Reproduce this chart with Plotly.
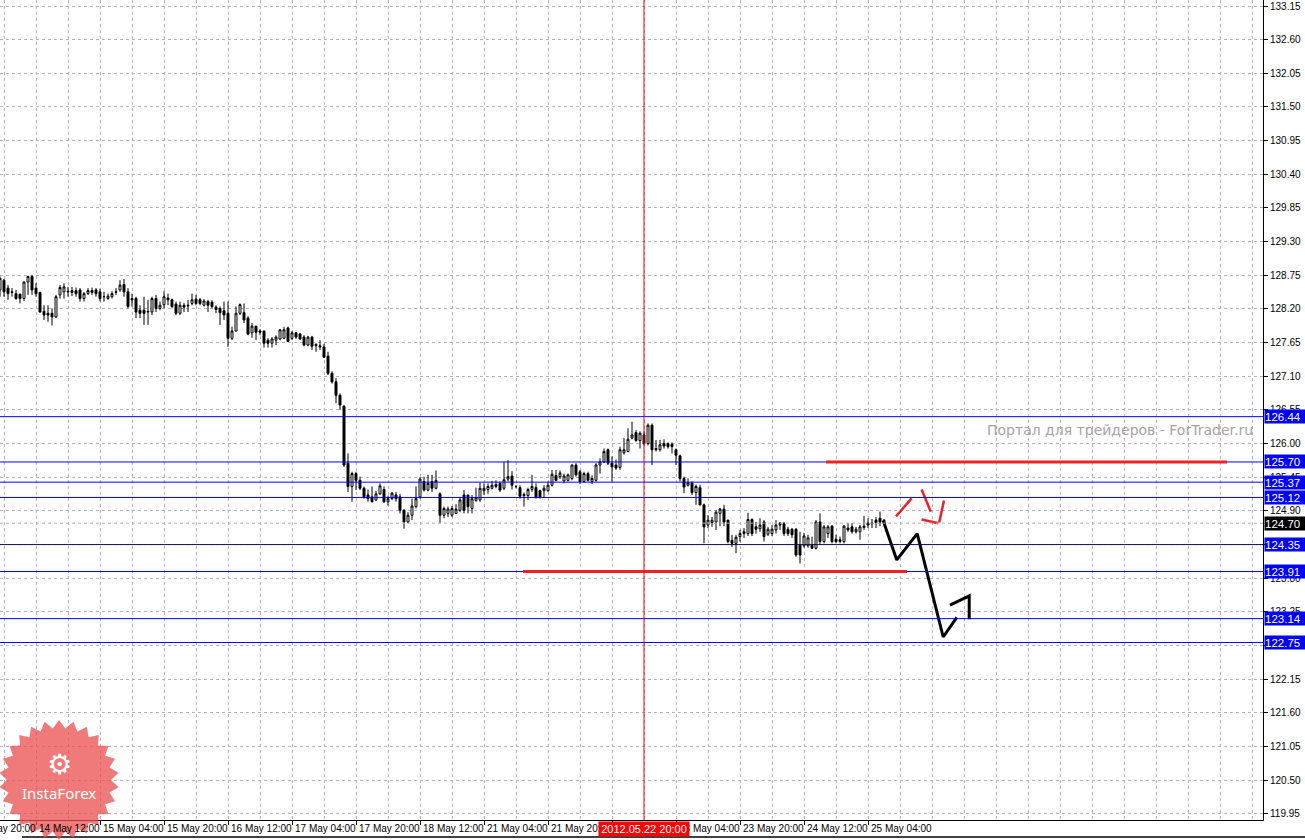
import math
import plotly.graph_objects as go

# ---------------- data (H1 bars, index 0 = 14 May 12:00) ----------------
bar_index = list(range(-9, 213))

opens = [
    128.51, 128.67, 128.54, 128.48, 128.45, 128.44, 128.37, 128.64, 128.73, 128.54,
    128.47, 128.16, 128.13, 128.13, 128.07, 128.43, 128.48, 128.49, 128.50, 128.50,
    128.51, 128.37, 128.45, 128.50, 128.51, 128.48, 128.40, 128.37, 128.40, 128.47,
    128.51, 128.60, 128.48, 128.37, 128.37, 128.18, 128.18, 128.15, 128.15, 128.37,
    128.21, 128.27, 128.38, 128.35, 128.28, 128.13, 128.26, 128.25, 128.29, 128.36,
    128.35, 128.26, 128.32, 128.31, 128.23, 128.21, 128.17, 128.13, 127.72, 127.84,
    128.13, 128.14, 128.05, 127.81, 127.92, 127.84, 127.84, 127.69, 127.64, 127.69,
    127.71, 127.72, 127.89, 127.72, 127.81, 127.79, 127.74, 127.61, 127.74, 127.62,
    127.60, 127.58, 127.43, 127.15, 127.01, 126.79, 126.61, 125.68, 125.30, 125.51,
    125.40, 125.27, 125.16, 125.13, 125.08, 125.18, 125.25, 125.05, 125.10, 125.16,
    125.13, 124.91, 124.72, 124.83, 124.97, 125.13, 125.38, 125.24, 125.38, 125.27,
    125.18, 124.83, 124.86, 124.83, 124.86, 124.91, 125.16, 125.16, 124.94, 125.07,
    125.08, 125.23, 125.25, 125.27, 125.33, 125.35, 125.27, 125.42, 125.47, 125.30,
    125.28, 125.17, 125.15, 125.25, 125.28, 125.23, 125.23, 125.23, 125.32, 125.48,
    125.46, 125.39, 125.40, 125.43, 125.65, 125.54, 125.38, 125.51, 125.38, 125.40,
    125.65, 125.70, 125.90, 125.68, 125.65, 125.61, 125.85, 125.87, 126.09, 126.18,
    126.05, 126.14, 126.00, 126.30, 125.90, 125.90, 126.00, 126.00, 125.99, 125.90,
    125.80, 125.43, 125.32, 125.36, 125.20, 125.28, 125.00, 124.67, 124.71, 124.72,
    124.86, 124.93, 124.75, 124.42, 124.37, 124.48, 124.56, 124.53, 124.76, 124.64,
    124.61, 124.72, 124.52, 124.53, 124.59, 124.67, 124.69, 124.60, 124.60, 124.60,
    124.34, 124.33, 124.33, 124.34, 124.29, 124.72, 124.40, 124.53, 124.65, 124.44,
    124.40, 124.40, 124.62, 124.64, 124.56, 124.56, 124.63, 124.67, 124.69, 124.75,
    124.78, 124.75,
]
highs = [
    128.73, 128.69, 128.59, 128.54, 128.51, 128.45, 128.65, 128.74, 128.75, 128.62,
    128.48, 128.26, 128.26, 128.21, 128.43, 128.59, 128.62, 128.56, 128.56, 128.55,
    128.54, 128.48, 128.54, 128.55, 128.54, 128.53, 128.48, 128.45, 128.49, 128.54,
    128.67, 128.69, 128.54, 128.45, 128.40, 128.26, 128.40, 128.35, 128.40, 128.43,
    128.32, 128.49, 128.45, 128.37, 128.32, 128.32, 128.30, 128.35, 128.45, 128.43,
    128.38, 128.36, 128.35, 128.34, 128.26, 128.24, 128.32, 128.32, 127.91, 128.24,
    128.29, 128.29, 128.08, 127.97, 127.92, 127.87, 127.84, 127.72, 127.74, 127.77,
    127.87, 127.91, 127.91, 127.84, 127.82, 127.81, 127.77, 127.76, 127.76, 127.64,
    127.69, 127.63, 127.50, 127.18, 127.07, 126.82, 126.63, 125.84, 125.54, 125.54,
    125.46, 125.30, 125.25, 125.30, 125.23, 125.35, 125.30, 125.15, 125.21, 125.21,
    125.18, 124.93, 124.88, 125.10, 125.30, 125.45, 125.46, 125.49, 125.49, 125.56,
    125.20, 124.97, 124.97, 124.98, 125.01, 125.13, 125.24, 125.16, 125.16, 125.28,
    125.36, 125.35, 125.35, 125.39, 125.40, 125.38, 125.70, 125.73, 125.55, 125.32,
    125.32, 125.20, 125.28, 125.49, 125.35, 125.25, 125.32, 125.38, 125.57, 125.57,
    125.56, 125.51, 125.51, 125.66, 125.68, 125.57, 125.54, 125.54, 125.48, 125.68,
    125.76, 125.92, 125.92, 125.79, 125.74, 125.95, 126.09, 126.25, 126.36, 126.22,
    126.20, 126.20, 126.33, 126.33, 126.06, 126.06, 126.07, 126.02, 126.02, 125.92,
    125.82, 125.46, 125.43, 125.38, 125.33, 125.33, 125.02, 124.83, 124.80, 124.91,
    124.95, 125.00, 124.75, 124.51, 124.51, 124.59, 124.62, 124.87, 124.78, 124.72,
    124.78, 124.75, 124.64, 124.67, 124.75, 124.72, 124.72, 124.64, 124.62, 124.62,
    124.56, 124.54, 124.51, 124.48, 124.75, 124.86, 124.67, 124.67, 124.67, 124.51,
    124.48, 124.67, 124.70, 124.70, 124.64, 124.67, 124.82, 124.78, 124.77, 124.80,
    124.89, 124.77,
]
lows = [
    128.40, 128.40, 128.35, 128.40, 128.35, 128.29, 128.33, 128.43, 128.43, 128.40,
    128.14, 128.02, 127.99, 127.93, 128.05, 128.37, 128.37, 128.40, 128.41, 128.40,
    128.32, 128.32, 128.43, 128.43, 128.40, 128.32, 128.32, 128.35, 128.37, 128.43,
    128.48, 128.40, 128.21, 128.24, 128.05, 128.05, 127.94, 127.94, 128.10, 128.15,
    128.18, 128.21, 128.26, 128.21, 128.10, 128.10, 128.15, 128.15, 128.26, 128.26,
    128.26, 128.24, 128.15, 128.21, 128.13, 127.94, 128.02, 127.58, 127.69, 127.83,
    128.10, 127.97, 127.77, 127.73, 127.69, 127.77, 127.57, 127.57, 127.57, 127.61,
    127.69, 127.71, 127.66, 127.69, 127.71, 127.69, 127.59, 127.59, 127.53, 127.50,
    127.53, 127.40, 127.12, 126.98, 126.66, 126.55, 125.62, 125.21, 125.05, 125.24,
    125.24, 125.10, 125.05, 125.04, 125.06, 125.16, 125.03, 124.99, 125.08, 125.05,
    124.86, 124.61, 124.70, 124.75, 124.94, 125.10, 125.22, 125.22, 125.21, 125.25,
    124.70, 124.78, 124.80, 124.80, 124.85, 124.88, 124.86, 124.86, 124.86, 125.05,
    125.05, 125.16, 125.18, 125.25, 125.27, 125.21, 125.24, 125.38, 125.25, 125.27,
    125.10, 124.97, 125.08, 125.21, 125.10, 125.10, 125.12, 125.21, 125.30, 125.38,
    125.42, 125.35, 125.38, 125.40, 125.46, 125.34, 125.36, 125.38, 125.34, 125.38,
    125.51, 125.68, 125.65, 125.38, 125.57, 125.57, 125.82, 125.86, 126.07, 126.03,
    125.92, 125.97, 125.97, 125.65, 125.87, 125.87, 125.92, 125.92, 125.84, 125.65,
    125.38, 125.19, 125.30, 125.16, 125.00, 124.99, 124.37, 124.62, 124.64, 124.59,
    124.65, 124.65, 124.37, 124.31, 124.21, 124.40, 124.46, 124.49, 124.49, 124.53,
    124.56, 124.40, 124.49, 124.49, 124.53, 124.59, 124.49, 124.49, 124.46, 124.15,
    124.04, 124.30, 124.30, 124.28, 124.27, 124.35, 124.37, 124.46, 124.37, 124.37,
    124.37, 124.37, 124.56, 124.53, 124.53, 124.43, 124.59, 124.62, 124.62, 124.62,
    124.65, 124.67,
]
closes = [
    128.70, 128.48, 128.45, 128.47, 128.37, 128.37, 128.64, 128.73, 128.51, 128.45,
    128.15, 128.10, 128.10, 128.07, 128.40, 128.55, 128.56, 128.48, 128.47, 128.45,
    128.37, 128.45, 128.50, 128.47, 128.45, 128.37, 128.40, 128.41, 128.45, 128.48,
    128.59, 128.48, 128.24, 128.35, 128.15, 128.13, 128.13, 128.16, 128.37, 128.21,
    128.26, 128.40, 128.35, 128.24, 128.13, 128.26, 128.23, 128.26, 128.35, 128.29,
    128.29, 128.33, 128.26, 128.24, 128.19, 128.14, 128.10, 127.72, 127.84, 128.13,
    128.27, 128.02, 127.79, 127.92, 127.82, 127.82, 127.64, 127.64, 127.71, 127.74,
    127.86, 127.86, 127.67, 127.81, 127.74, 127.71, 127.61, 127.74, 127.59, 127.60,
    127.58, 127.41, 127.15, 127.01, 126.79, 126.63, 125.65, 125.30, 125.51, 125.40,
    125.27, 125.13, 125.10, 125.05, 125.18, 125.31, 125.05, 125.10, 125.19, 125.10,
    124.91, 124.72, 124.83, 124.98, 125.10, 125.42, 125.24, 125.35, 125.27, 125.40,
    124.83, 124.94, 124.93, 124.94, 124.93, 125.08, 124.91, 124.97, 125.10, 125.12,
    125.27, 125.27, 125.30, 125.32, 125.30, 125.24, 125.41, 125.46, 125.32, 125.30,
    125.14, 125.15, 125.25, 125.30, 125.12, 125.12, 125.27, 125.32, 125.50, 125.40,
    125.52, 125.47, 125.49, 125.65, 125.49, 125.38, 125.51, 125.40, 125.43, 125.65,
    125.70, 125.87, 125.68, 125.62, 125.60, 125.90, 125.90, 126.07, 126.14, 126.05,
    126.17, 126.00, 126.30, 125.90, 125.92, 125.98, 125.96, 125.95, 125.95, 125.81,
    125.43, 125.29, 125.36, 125.20, 125.30, 125.00, 124.64, 124.75, 124.75, 124.88,
    124.93, 124.72, 124.40, 124.37, 124.47, 124.53, 124.53, 124.76, 124.53, 124.60,
    124.67, 124.48, 124.60, 124.60, 124.67, 124.70, 124.53, 124.53, 124.51, 124.18,
    124.18, 124.49, 124.46, 124.29, 124.72, 124.40, 124.64, 124.64, 124.40, 124.40,
    124.43, 124.65, 124.59, 124.56, 124.60, 124.64, 124.65, 124.70, 124.70, 124.71,
    124.72, 124.70,
]

# price axis labels
y_ticks = [119.95, 120.50, 121.05, 121.60, 122.15, 122.70, 123.25, 123.80, 124.35,
           124.90, 125.45, 126.00, 126.55, 127.10, 127.65, 128.20, 128.75, 129.30,
           129.85, 130.40, 130.95, 131.50, 132.05, 132.60, 133.15]

# time axis labels (bar index where each label sits)
x_label_bars = [-16, 0, 16, 32, 48, 64, 80, 96, 112, 128, 144, 160, 176, 192, 208]
x_labels = ["13 May 20:00", "14 May 12:00", "15 May 04:00", "15 May 20:00",
            "16 May 12:00", "17 May 04:00", "17 May 20:00", "18 May 12:00",
            "21 May 04:00", "21 May 20:00", "22 May 12:00", "23 May 04:00",
            "23 May 20:00", "24 May 12:00", "25 May 04:00"]

# horizontal levels
level_prices = [126.44, 125.70, 125.37, 125.12, 124.35, 123.91, 123.14, 122.75]
level_labels = ["126.44", "125.70", "125.37", "125.12", "124.35", "123.91", "123.14", "122.75"]
bid_price = 124.70
bid_label = "124.70"

cursor_bar = 152
cursor_label = "2012.05.22 20:00"

# thick red support / resistance drawings
red_x0 = [121.75, 197.5]
red_x1 = [217.75, 297.75]
red_y = [123.91, 125.70]

# black hand-drawn forecast
fc1_x = [211.8, 215.2, 220.3, 226.8, 230.2]
fc1_y = [124.74, 124.10, 124.53, 122.84, 123.16]
fc2_x = [228.5, 233.3, 233.3]
fc2_y = [123.36, 123.51, 123.13]

# red hand-drawn dashes
rd_x = [215.0, 218.9, None, 221.4, 223.7, None, 221.4, 225.6, None, 227.0, 225.8]
rd_y = [124.81, 125.105, None, 125.25, 124.887, None, 124.76, 124.70, None, 125.07, 124.71]

watermark = "Портал для трейдеров - ForTrader.ru"

# ---------------- layout constants ----------------
W, H = 1305, 840
ML, MR, MT, MB = 0, 42, 0, 20
PW, PH = W - ML - MR, H - MT - MB
X_MIN = -9
X_MAX = X_MIN + PW / 4.0
Y_MIN, Y_MAX = 119.85, 133.248
GRID = "#b9aeb9"
AXFONT = "Liberation Sans"
FONT = "DejaVu Sans"


def px_x(k):
    return (k - X_MIN) / (X_MAX - X_MIN)


fig = go.Figure()

fig.add_trace(go.Candlestick(
    x=bar_index, open=opens, high=highs, low=lows, close=closes,
    increasing=dict(line=dict(color="black", width=1), fillcolor="white"),
    decreasing=dict(line=dict(color="black", width=1), fillcolor="black"),
    whiskerwidth=0, showlegend=False, hoverinfo="skip",
))

# forecast drawings
fig.add_trace(go.Scatter(x=fc1_x, y=fc1_y, mode="lines",
                         line=dict(color="black", width=3), showlegend=False, hoverinfo="skip"))
fig.add_trace(go.Scatter(x=fc2_x, y=fc2_y, mode="lines",
                         line=dict(color="black", width=3), showlegend=False, hoverinfo="skip"))
fig.add_trace(go.Scatter(x=rd_x, y=rd_y, mode="lines", connectgaps=False,
                         line=dict(color="#ee2222", width=2.5), showlegend=False, hoverinfo="skip"))

shapes = []
# bid line
shapes.append(dict(type="line", xref="paper", x0=0, x1=1, yref="y", y0=bid_price, y1=bid_price,
                   line=dict(color="#b0b0b0", width=1, dash="dot"), layer="above"))
# level lines
for p in level_prices:
    col = "#10104a" if abs(p - 124.35) < 1e-9 else "#0000ff"
    shapes.append(dict(type="line", xref="paper", x0=0, x1=1, yref="y", y0=p, y1=p,
                       line=dict(color=col, width=1), layer="above"))
# thick red lines
for a, b, p in zip(red_x0, red_x1, red_y):
    shapes.append(dict(type="line", xref="x", x0=a, x1=b, yref="y", y0=p, y1=p,
                       line=dict(color="#ee2222", width=3), layer="above"))
# cursor vertical line
shapes.append(dict(type="line", xref="x", x0=cursor_bar, x1=cursor_bar, yref="paper", y0=0, y1=1,
                   line=dict(color="#ff0000", width=1), layer="above"))
# window bottom border
shapes.append(dict(type="line", xref="paper", x0=22 / PW, x1=W / PW, yref="paper",
                   y0=-17 / PH, y1=-17 / PH, line=dict(color="black", width=1.5), layer="above"))

# InstaForex badge (starburst)
cx, cy, r_out, r_in, n = 59, 780, 60, 52, 26
pts = []
for i in range(2 * n):
    ang = math.pi * i / n - math.pi / 2
    r = r_out if i % 2 == 0 else r_in
    pts.append(((cx + r * math.cos(ang)) / PW, 1 - (cy + r * math.sin(ang)) / PH))
path = "M " + " L ".join(f"{a:.5f},{b:.5f}" for a, b in pts) + " Z"
shapes.append(dict(type="path", xref="paper", yref="paper", path=path,
                   fillcolor="rgba(235,80,80,0.76)", line=dict(width=0), layer="above"))

annotations = []
# time labels
for k, t in zip(x_label_bars, x_labels):
    annotations.append(dict(xref="paper", x=px_x(k), yref="paper", y=0, xanchor="left",
                            yanchor="top", xshift=1, yshift=-1, text=t, showarrow=False,
                            font=dict(family=AXFONT, size=10, color="black"), borderpad=1))
# cursor date label
annotations.append(dict(xref="x", x=cursor_bar, yref="paper", y=0, xanchor="center", yanchor="top",
                        yshift=-1, text=cursor_label, showarrow=False, bgcolor="#ff0000",
                        font=dict(family=AXFONT, size=11, color="white"), width=90, height=14,
                        borderpad=0))
# level boxes
for p, lab in zip(level_prices, level_labels):
    annotations.append(dict(xref="paper", x=1, yref="y", y=p, xanchor="left", yanchor="middle",
                            xshift=1, text=lab, showarrow=False, bgcolor="#0000ff",
                            font=dict(family=AXFONT, size=11.5, color="white"), width=41, height=13,
                            borderpad=0, align="left"))
annotations.append(dict(xref="paper", x=1, yref="y", y=bid_price, xanchor="left", yanchor="middle",
                        xshift=1, text=bid_label, showarrow=False, bgcolor="black",
                        font=dict(family=AXFONT, size=11.5, color="white"), width=41, height=13,
                        borderpad=0, align="left"))
# watermark
annotations.append(dict(xref="paper", x=1255 / PW, yref="paper", y=1 - 430 / PH, xanchor="right",
                        yanchor="middle", text=watermark, showarrow=False,
                        font=dict(family=FONT, size=14, color="#ab9f9f")))
# badge icon + text
annotations.append(dict(xref="paper", x=cx / PW, yref="paper", y=1 - 764 / PH, xanchor="center",
                        yanchor="middle", text="⚙", showarrow=False,
                        font=dict(family="DejaVu Sans", size=28, color="white")))
annotations.append(dict(xref="paper", x=cx / PW, yref="paper", y=1 - 793 / PH, xanchor="center",
                        yanchor="middle", text="InstaForex", showarrow=False,
                        font=dict(family="Noto Sans", size=15, color="white")))

major_x = [k for k in x_label_bars if X_MIN <= k <= X_MAX]
minor_x = [k for k in range(-8, int(X_MAX) + 1, 8) if k not in major_x]

fig.update_layout(
    width=W, height=H, autosize=False,
    margin=dict(l=ML, r=MR, t=MT, b=MB, pad=0),
    paper_bgcolor="white", plot_bgcolor="white",
    shapes=shapes, annotations=annotations,
    showlegend=False, hovermode=False,
    xaxis=dict(
        range=[X_MIN, X_MAX], tickmode="array", tickvals=major_x, showticklabels=False,
        ticks="outside", ticklen=4, tickcolor="black", tickwidth=1,
        showline=True, linecolor="black", linewidth=1, mirror=False,
        showgrid=True, gridcolor=GRID, gridwidth=1, griddash="3px,3px",
        minor=dict(tickmode="array", tickvals=minor_x, showgrid=True, gridcolor=GRID,
                   griddash="3px,3px", ticks=""),
        zeroline=False, rangeslider=dict(visible=False), fixedrange=True,
    ),
    yaxis=dict(
        range=[Y_MIN, Y_MAX], side="right", tickmode="array", tickvals=y_ticks,
        ticktext=[f"{v:.2f}" for v in y_ticks],
        ticks="outside", ticklen=4, tickcolor="black",
        tickfont=dict(family=AXFONT, size=10, color="black"),
        showline=True, linecolor="black", linewidth=1,
        showgrid=True, gridcolor=GRID, gridwidth=1, griddash="3px,3px",
        zeroline=False, fixedrange=True,
    ),
)

fig.write_html("out.html", config={"displayModeBar": False},
               post_script="document.body.style.margin='0px';document.body.style.overflow='hidden';")
